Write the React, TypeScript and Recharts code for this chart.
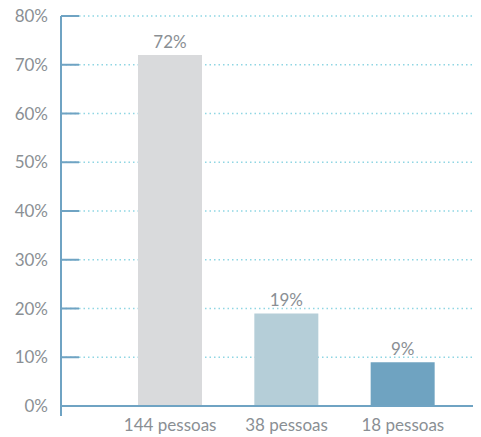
import { Bar, BarChart, CartesianGrid, Cell, LabelList, XAxis, YAxis } from "recharts";

const categories = ["144 pessoas", "38 pessoas", "18 pessoas"];
const shares = [72, 19, 9];
const barColors = ["#d9dadc", "#b5ced8", "#6fa3c1"];
const yTicks = [0, 10, 20, 30, 40, 50, 60, 70, 80];

const data = categories.map((name, i) => ({ name, share: shares[i] }));

const AXIS = "#6fa3c3";
const TEXT = "#8a8f94";
const FONT = "Lato, 'Open Sans', sans-serif";

function YTick(props: any) {
  const { x, y, payload } = props;
  return (
    <g>
      <line x1={x} y1={y} x2={x + 18} y2={y} stroke={AXIS} strokeWidth={2} />
      {payload.value === 0 && <line x1={x} y1={y} x2={x} y2={y + 10} stroke={AXIS} strokeWidth={2} />}
      <text x={x - 13} y={y} dy={6} textAnchor="end" fill={TEXT} fontSize={17} fontFamily={FONT}>
        {`${payload.value}%`}
      </text>
    </g>
  );
}

export default function App() {
  return (
    <div style={{ marginTop: -6 }}>
      <BarChart
        width={473}
        height={435}
        data={data}
        margin={{ top: 14, right: 0, left: 0, bottom: 0 }}
        barSize={64}
      >
        <CartesianGrid
          horizontal
          vertical={false}
          stroke="#8fd6e3"
          strokeWidth={1.5}
          strokeDasharray="1.5 3"
        />
        <XAxis
          dataKey="name"
          height={31}
          padding={{ left: 51, right: 20 }}
          axisLine={{ stroke: AXIS, strokeWidth: 2 }}
          tickLine={false}
          tickSize={0}
          tickMargin={13}
          tick={{ fill: TEXT, fontSize: 17, fontFamily: FONT }}
        />
        <YAxis
          width={53}
          domain={[0, 80]}
          ticks={yTicks}
          interval={0}
          axisLine={{ stroke: AXIS, strokeWidth: 2 }}
          tickLine={false}
          tickSize={0}
          tickMargin={0}
          tick={<YTick />}
        />
        <Bar dataKey="share" isAnimationActive={false}>
          {data.map((d, i) => (
            <Cell key={d.name} fill={barColors[i]} />
          ))}
          <LabelList
            dataKey="share"
            position="top"
            offset={7}
            formatter={(v: any) => `${v}%`}
            fill={TEXT}
            fontSize={17}
            fontFamily={FONT}
          />
        </Bar>
      </BarChart>
    </div>
  );
}
